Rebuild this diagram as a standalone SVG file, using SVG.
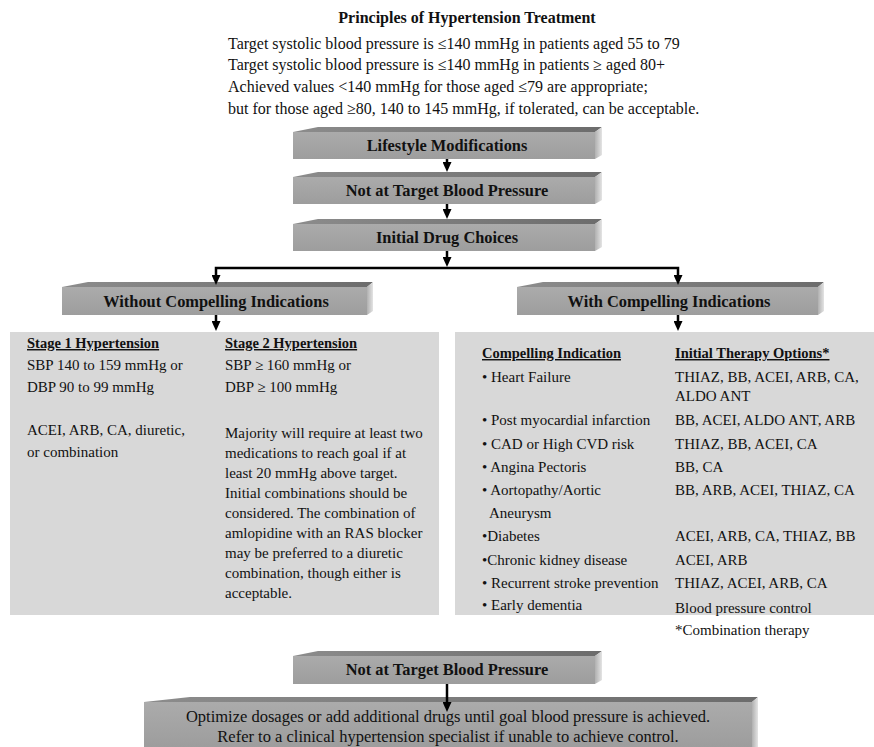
<svg xmlns="http://www.w3.org/2000/svg" width="874" height="747" viewBox="0 0 874 747">
<style>
.tx{font-family:"Liberation Serif","Times New Roman",serif;fill:#111}
.title{font-size:16px;font-weight:bold;text-anchor:middle}
.hd{font-size:16px}
.bx{font-size:16.4px;font-weight:bold;text-anchor:middle}
.pn{font-size:15px}
.ul{font-size:14.5px;font-weight:bold;text-decoration:underline}
.bt{font-size:16.5px;text-anchor:middle}
.front{fill:url(#gFront)}
.top{fill:url(#gTop)}
.side{fill:url(#gSide)}
.panel{fill:#d8d8d8}
.con{fill:none;stroke:#000;stroke-width:2.5;stroke-linejoin:miter}
</style>
<defs>
<linearGradient id="gFront" x1="0" y1="0" x2="0" y2="1"><stop offset="0" stop-color="#ababab"/><stop offset="1" stop-color="#9d9d9d"/></linearGradient>
<linearGradient id="gTop" x1="0" y1="0" x2="1" y2="0"><stop offset="0" stop-color="#8c8c8c"/><stop offset="1" stop-color="#6c6c6c"/></linearGradient>
<linearGradient id="gSide" x1="0" y1="0" x2="1" y2="0"><stop offset="0" stop-color="#b0b0b0"/><stop offset="1" stop-color="#e4e4e4"/></linearGradient>
<marker id="ah" viewBox="0 0 10 9" markerWidth="10" markerHeight="9" refX="4" refY="4.5" orient="auto" markerUnits="userSpaceOnUse"><path d="M0,0 L10,4.5 L0,9 z" fill="#000"/></marker>
</defs>

<g id="header" class="tx">
<text class="title" x="467" y="23">Principles of Hypertension Treatment</text>
<text class="hd" x="228" y="48.5">Target systolic blood pressure is ≤140 mmHg in patients aged 55 to 79</text>
<text class="hd" x="228" y="70.2">Target systolic blood pressure is ≤140 mmHg in patients ≥ aged 80+</text>
<text class="hd" x="228" y="91.9">Achieved values &lt;140 mmHg for those aged ≤79 are appropriate;</text>
<text class="hd" x="228" y="113.6">but for those aged ≥80, 140 to 145 mmHg, if tolerated, can be acceptable.</text>
</g>

<g id="lifestyle">
<polygon class="top" points="293,132 318,127 602,127 595,132"/>
<polygon class="side" points="595,132 602,127 602,155 595,159"/>
<rect class="front" x="293" y="132" width="302" height="27"/>
<text class="tx bx" x="447" y="151">Lifestyle Modifications</text>
</g>

<g id="not-at-target-1">
<polygon class="top" points="293,177 318,172 602,172 595,177"/>
<polygon class="side" points="595,177 602,172 602,200 595,204"/>
<rect class="front" x="293" y="177" width="302" height="27"/>
<text class="tx bx" x="447" y="196">Not at Target Blood Pressure</text>
</g>

<g id="initial-drug">
<polygon class="top" points="293,224 318,219 602,219 595,224"/>
<polygon class="side" points="595,224 602,219 602,247 595,251"/>
<rect class="front" x="293" y="224" width="302" height="27"/>
<text class="tx bx" x="447" y="243">Initial Drug Choices</text>
</g>

<g id="without">
<polygon class="top" points="62,287 88,282 373,282 367,287"/>
<polygon class="side" points="367,287 373,282 373,311 367,315"/>
<rect class="front" x="62" y="287" width="305" height="28"/>
<text class="tx bx" x="216" y="307">Without Compelling Indications</text>
</g>

<g id="with">
<polygon class="top" points="517,287 543,282 824,282 818,287"/>
<polygon class="side" points="818,287 824,282 824,311 818,315"/>
<rect class="front" x="517" y="287" width="301" height="28"/>
<text class="tx bx" x="669" y="307">With Compelling Indications</text>
</g>

<g id="left-panel">
<rect class="panel" x="10" y="332" width="429" height="283"/>
<g class="tx pn">
<text class="ul" x="27" y="348">Stage 1 Hypertension</text>
<text x="27" y="370">SBP 140 to 159 mmHg or</text>
<text x="27" y="392">DBP 90 to 99 mmHg</text>
<text x="27" y="435">ACEI, ARB, CA, diuretic,</text>
<text x="27" y="457">or combination</text>
<text class="ul" x="225" y="348">Stage 2 Hypertension</text>
<text x="225" y="370">SBP ≥ 160 mmHg or</text>
<text x="225" y="392">DBP ≥ 100 mmHg</text>
<text x="225" y="438">Majority will require at least two</text>
<text x="225" y="458">medications to reach goal if at</text>
<text x="225" y="478">least 20 mmHg above target.</text>
<text x="225" y="498">Initial combinations should be</text>
<text x="225" y="518">considered. The combination of</text>
<text x="225" y="538">amlopidine with an RAS blocker</text>
<text x="225" y="558">may be preferred to a diuretic</text>
<text x="225" y="578">combination, though either is</text>
<text x="225" y="598">acceptable.</text>
</g>
</g>

<g id="right-panel">
<rect class="panel" x="455" y="332" width="419" height="283"/>
<g class="tx pn">
<text class="ul" x="482" y="358">Compelling Indication</text>
<text class="ul" x="675" y="358">Initial Therapy Options*</text>
<text x="482" y="382">• Heart Failure</text>
<text x="675" y="382">THIAZ, BB, ACEI, ARB, CA,</text>
<text x="675" y="401">ALDO ANT</text>
<text x="482" y="425">• Post myocardial infarction</text>
<text x="675" y="425">BB, ACEI, ALDO ANT, ARB</text>
<text x="482" y="448.5">• CAD or High CVD risk</text>
<text x="675" y="448.5">THIAZ, BB, ACEI, CA</text>
<text x="482" y="472">• Angina Pectoris</text>
<text x="675" y="472">BB, CA</text>
<text x="482" y="495">• Aortopathy/Aortic</text>
<text x="675" y="495">BB, ARB, ACEI, THIAZ, CA</text>
<text x="489" y="518">Aneurysm</text>
<text x="482" y="541">•Diabetes</text>
<text x="675" y="541">ACEI, ARB, CA, THIAZ, BB</text>
<text x="482" y="564.5">•Chronic kidney disease</text>
<text x="675" y="564.5">ACEI, ARB</text>
<text x="482" y="588">• Recurrent stroke prevention</text>
<text x="675" y="588">THIAZ, ACEI, ARB, CA</text>
<text x="482" y="610">• Early dementia</text>
<text x="675" y="612.5">Blood pressure control</text>
<text x="675" y="635">*Combination therapy</text>
</g>
</g>

<g id="not-at-target-2">
<polygon class="top" points="293,656 318,651 602,651 595,656"/>
<polygon class="side" points="595,656 602,651 602,680 595,684"/>
<rect class="front" x="293" y="656" width="302" height="28"/>
<text class="tx bx" x="447" y="675">Not at Target Blood Pressure</text>
</g>

<g id="optimize">
<polygon class="top" points="144,702 190,697 758,697 752,702"/>
<polygon class="side" points="752,702 758,697 758,747 752,747"/>
<rect class="front" x="144" y="702" width="608" height="45"/>
<text class="tx bt" x="448" y="722">Optimize dosages or add additional drugs until goal blood pressure is achieved.</text>
<text class="tx bt" x="448" y="742">Refer to a clinical hypertension specialist if unable to achieve control.</text>
</g>

<g id="connectors">
<path class="con" d="M447,159 V166" marker-end="url(#ah)"/>
<path class="con" d="M447,204 V213" marker-end="url(#ah)"/>
<path class="con" d="M447,251 V261" marker-end="url(#ah)"/>
<path class="con" d="M447,268 H216 V279" marker-end="url(#ah)"/>
<path class="con" d="M447,268 H678 V279" marker-end="url(#ah)"/>
<path class="con" d="M216,315 V325" marker-end="url(#ah)"/>
<path class="con" d="M678,315 V325" marker-end="url(#ah)"/>
<path class="con" d="M447,684 V706" marker-end="url(#ah)"/>
</g>
</svg>
